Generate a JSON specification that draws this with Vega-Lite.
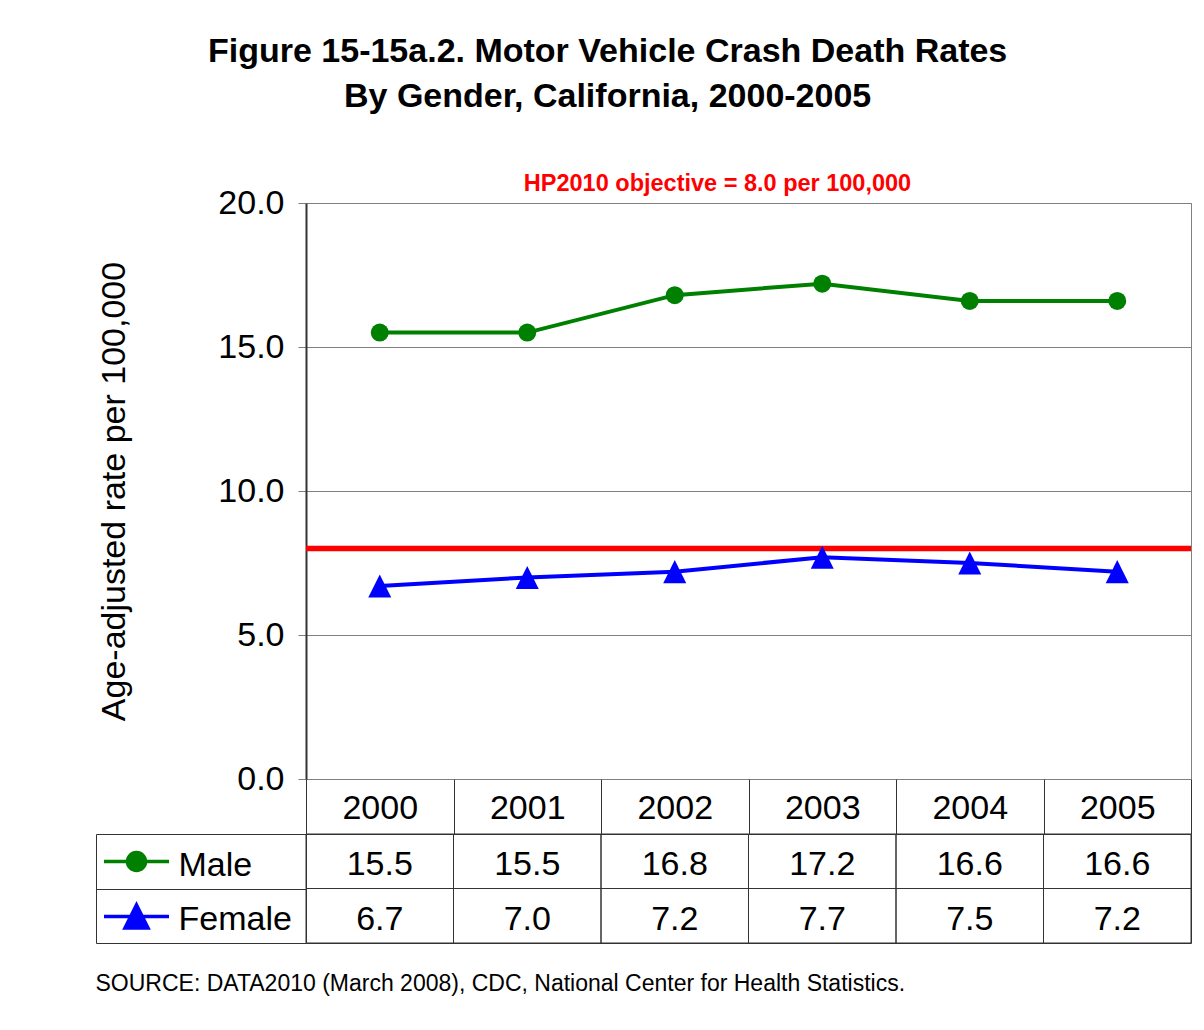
{
  "$schema": "https://vega.github.io/schema/vega-lite/v6.json",
  "padding": {"left": 95, "top": 35, "right": 12, "bottom": 30},
  "config": {
    "font": "Liberation Sans",
    "view": {"stroke": "#808080"},
    "axis": {"labelColor": "black", "titleColor": "black"}
  },
  "title": {
    "text": ["Figure 15-15a.2. Motor Vehicle Crash Death Rates", "By Gender, California, 2000-2005"],
    "fontSize": 34,
    "fontWeight": "bold",
    "color": "black",
    "lineHeight": 45,
    "anchor": "middle",
    "frame": "bounds",
    "dx": -37,
    "offset": 57
  },
  "datasets": {
    "rates": [
      {"year": 2000, "gender": "Male", "rate": 15.5},
      {"year": 2001, "gender": "Male", "rate": 15.5},
      {"year": 2002, "gender": "Male", "rate": 16.8},
      {"year": 2003, "gender": "Male", "rate": 17.2},
      {"year": 2004, "gender": "Male", "rate": 16.6},
      {"year": 2005, "gender": "Male", "rate": 16.6},
      {"year": 2000, "gender": "Female", "rate": 6.7},
      {"year": 2001, "gender": "Female", "rate": 7.0},
      {"year": 2002, "gender": "Female", "rate": 7.2},
      {"year": 2003, "gender": "Female", "rate": 7.7},
      {"year": 2004, "gender": "Female", "rate": 7.5},
      {"year": 2005, "gender": "Female", "rate": 7.2}
    ],
    "objective": [{"measure": "HP2010 objective", "rate": 8.0}]
  },
  "spacing": 55,
  "bounds": "flush",
  "vconcat": [
    {
      "width": 885,
      "height": 576,
      "title": {
        "text": "HP2010 objective = 8.0 per 100,000",
        "color": "#FF0000",
        "fontSize": 23.5,
        "fontWeight": "bold",
        "anchor": "middle",
        "dx": -31,
        "offset": -9
      },
      "resolve": {"scale": {"color": "independent"}},
      "layer": [
        {
          "data": {"name": "objective"},
          "mark": {"type": "rule", "color": "#FF0000", "strokeWidth": 5.5},
          "encoding": {
            "y": {"field": "rate", "type": "quantitative", "scale": {"domain": [0, 20], "nice": false},
              "axis": {"values": [0, 5, 10, 15, 20], "format": ".1f", "title": "Age-adjusted rate per 100,000", "titleFontSize": 34, "titleFontWeight": "normal", "titlePadding": 86, "labelFontSize": 34, "labelPadding": 14, "tickSize": 8, "tickColor": "#808080", "domainColor": "#333333", "domainWidth": 2, "grid": true, "gridColor": "#808080", "gridOpacity": 1, "labelBaseline": "middle"}}
          }
        },
        {
          "data": {"name": "rates"},
          "transform": [{"filter": "datum.gender === 'Male'"}],
          "mark": {"type": "line", "strokeWidth": 4, "color": "#008000"},
          "encoding": {
            "x": {"field": "year", "type": "ordinal", "scale": {"type": "band", "paddingInner": 0, "paddingOuter": 0}, "axis": null},
            "y": {"field": "rate", "type": "quantitative"}
          }
        },
        {
          "data": {"name": "rates"},
          "transform": [{"filter": "datum.gender === 'Female'"}],
          "mark": {"type": "line", "strokeWidth": 4, "color": "#0000FF"},
          "encoding": {
            "x": {"field": "year", "type": "ordinal", "scale": {"type": "band", "paddingInner": 0, "paddingOuter": 0}, "axis": null},
            "y": {"field": "rate", "type": "quantitative"}
          }
        },
        {
          "data": {"name": "rates"},
          "transform": [{"filter": "datum.gender === 'Male'"}],
          "mark": {"type": "point", "filled": true, "size": 324, "opacity": 1, "shape": "circle"},
          "encoding": {
            "x": {"field": "year", "type": "ordinal", "scale": {"type": "band", "paddingInner": 0, "paddingOuter": 0}, "axis": null},
            "y": {"field": "rate", "type": "quantitative"},
            "color": {"field": "gender", "type": "nominal", "scale": {"domain": ["Male"], "range": ["#008000"]},
              "legend": {"orient": "none", "legendX": -204, "legendY": 631, "title": null, "padding": 0, "symbolSize": 4225, "symbolStrokeWidth": 3.5, "symbolStrokeColor": "#008000", "symbolFillColor": "#008000", "symbolOpacity": 1, "clipHeight": 55, "labelExpr": "''", "labelOffset": 0,
                "symbolType": "M-1,0L1,0M0.277,0A0.277,0.277,0,1,1,-0.277,0A0.277,0.277,0,1,1,0.277,0Z"}}
          }
        },
        {
          "data": {"name": "rates"},
          "transform": [{"filter": "datum.gender === 'Female'"}],
          "mark": {"type": "point", "filled": true, "size": 324, "opacity": 1, "shape": "M0,-1.28L1.28,1.28L-1.28,1.28Z"},
          "encoding": {
            "x": {"field": "year", "type": "ordinal", "scale": {"type": "band", "paddingInner": 0, "paddingOuter": 0}, "axis": null},
            "y": {"field": "rate", "type": "quantitative"},
            "color": {"field": "gender", "type": "nominal", "scale": {"domain": ["Female"], "range": ["#0000FF"]},
              "legend": {"orient": "none", "legendX": -204, "legendY": 686, "title": null, "padding": 0, "symbolSize": 4225, "symbolStrokeWidth": 3.5, "symbolStrokeColor": "#0000FF", "symbolFillColor": "#0000FF", "symbolOpacity": 1, "clipHeight": 55, "labelExpr": "''", "labelOffset": 0,
                "symbolType": "M-1,0L1,0M0,-0.354L0.354,0.354L-0.354,0.354Z"}}
          }
        }
      ]
    },
    {
      "width": 885,
      "height": 109,
      "data": {"name": "rates"},
      "view": {"stroke": "#333333"},
      "title": {
        "text": "SOURCE: DATA2010 (March 2008), CDC, National Center for Health Statistics.",
        "orient": "bottom",
        "anchor": "start",
        "frame": "bounds",
        "fontSize": 23,
        "fontWeight": "normal",
        "color": "black",
        "offset": 29
      },
      "encoding": {
        "x": {"field": "year", "type": "ordinal", "scale": {"type": "band", "paddingInner": 0, "paddingOuter": 0},
          "axis": {"orient": "top", "title": null, "labelAngle": 0, "labelFontSize": 34, "labelPadding": -39, "labelBaseline": "alphabetic", "tickSize": 55, "tickBand": "extent", "tickColor": "#333333", "domain": false, "grid": false}}
      },
      "layer": [
        {
          "mark": {"type": "rect", "fill": "transparent", "stroke": "#333333", "strokeWidth": 1},
          "encoding": {
            "y": {"field": "gender", "type": "nominal", "sort": ["Male", "Female"], "scale": {"type": "band", "paddingInner": 0, "paddingOuter": 0},
              "axis": {"title": null, "orient": "left", "tickSize": 210, "tickBand": "extent", "tickColor": "#333333", "labelAlign": "left", "labelPadding": -82, "labelFontSize": 34, "labelBaseline": "middle", "labelOffset": 4, "domain": false, "grid": false}}
          }
        },
        {
          "mark": {"type": "text", "fontSize": 34, "baseline": "middle", "dy": 4, "color": "black"},
          "encoding": {
            "y": {"field": "gender", "type": "nominal", "sort": ["Male", "Female"], "scale": {"type": "band", "paddingInner": 0, "paddingOuter": 0},
              "axis": {"title": null, "orient": "left", "offset": 210, "domain": true, "domainColor": "#333333", "ticks": false, "labels": false, "grid": false}},
            "text": {"field": "rate", "type": "quantitative", "format": ".1f"}
          }
        }
      ],
      "resolve": {"axis": {"y": "independent"}}
    }
  ]
}
